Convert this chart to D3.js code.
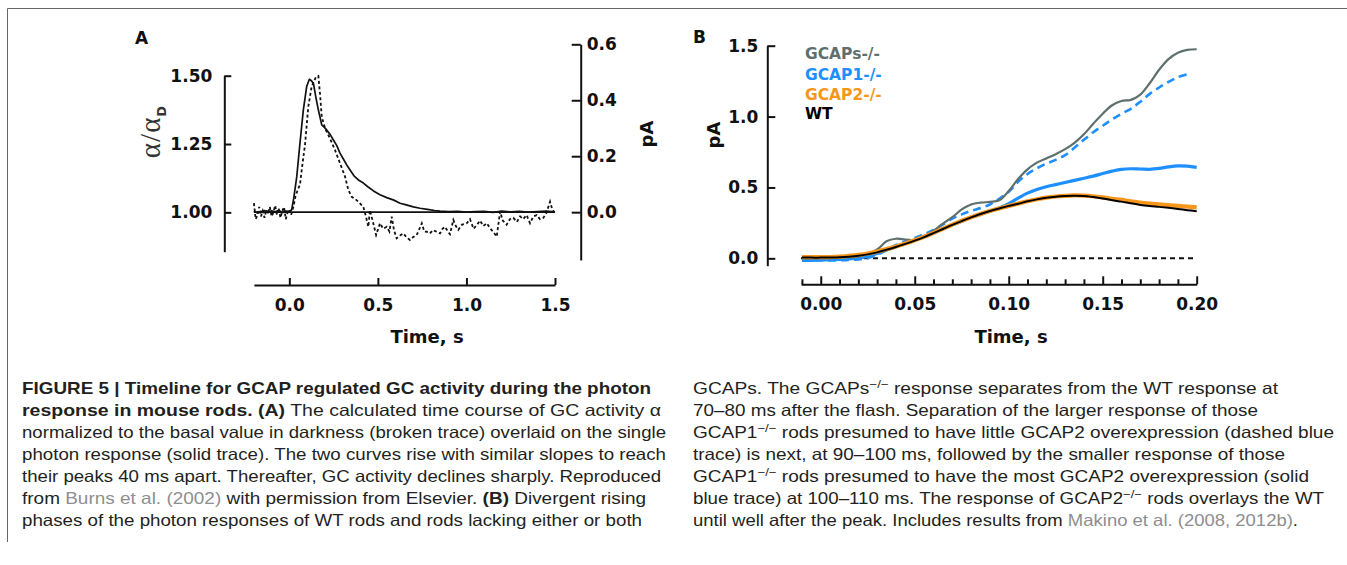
<!DOCTYPE html>
<html><head><meta charset="utf-8">
<script src="https://cdn.jsdelivr.net/npm/d3@7"></script>
<style>
html,body{margin:0;padding:0;background:#fff;}
svg{display:block;}
</style></head><body>
<svg id="c" width="1347" height="565"></svg>
<script>
// ---------- Panel A data ----------
const solidT  = [-0.2,-0.18,-0.16,-0.14,-0.12,-0.10,-0.08,-0.06,-0.04,-0.02,0.0,0.013,0.025,0.042,0.060,0.079,0.098,0.113,0.125,0.136,0.150,0.164,0.175,0.183,0.195,0.211,0.230,0.249,0.268,0.286,0.305,0.325,0.343,0.365,0.390,0.418,0.445,0.475,0.512,0.55,0.59,0.625,0.66,0.70,0.738,0.78,0.82,0.851,0.90,0.95,1.0,1.05,1.10,1.15,1.2,1.25,1.3,1.35,1.4,1.45,1.5];
const solidPA = [0.004,-0.003,0.002,0.006,-0.002,0.005,0.001,0.007,-0.002,0.004,0.003,0.008,0.05,0.127,0.246,0.365,0.449,0.475,0.47,0.46,0.41,0.365,0.335,0.312,0.305,0.294,0.278,0.258,0.238,0.211,0.19,0.168,0.151,0.13,0.115,0.104,0.09,0.076,0.062,0.052,0.043,0.032,0.026,0.019,0.014,0.01,0.006,0.004,0.002,0.003,0.0,0.002,0.003,-0.001,0.004,0.001,0.003,0.0,0.002,0.004,0.001];

const dotT = [-0.2,-0.19,-0.18,-0.17,-0.16,-0.15,-0.14,-0.13,-0.12,-0.11,-0.10,-0.09,-0.08,-0.07,-0.06,-0.05,-0.04,-0.03,-0.02,-0.01,0.0,0.01,0.023,0.035,0.051,0.06,0.070,0.089,0.107,0.126,0.151,0.164,0.173,0.183,0.202,0.215,0.230,0.258,0.286,0.315,0.333,0.352,0.370,0.390,0.418,0.433,0.446,0.455,0.474,0.490,0.512,0.530,0.550,0.565,0.578,0.591,0.606,0.625,0.644,0.660,0.681,0.70,0.719,0.735,0.748,0.762,0.776,0.794,0.81,0.832,0.851,0.865,0.879,0.895,0.907,0.926,0.94,0.954,0.975,1.002,1.02,1.04,1.06,1.077,1.095,1.115,1.135,1.15,1.171,1.19,1.205,1.227,1.245,1.265,1.285,1.303,1.32,1.34,1.359,1.378,1.397,1.415,1.434,1.45,1.472,1.485,1.5];
const dotAlpha = [1.034,0.975,0.99,1.02,0.985,1.005,0.98,1.01,0.995,1.02,0.985,1.0,1.025,0.99,1.015,0.98,1.005,1.02,0.975,1.0,1.01,0.99,1.02,1.06,1.088,1.10,1.155,1.25,1.386,1.46,1.496,1.499,1.436,1.35,1.307,1.29,1.27,1.228,1.18,1.13,1.082,1.057,1.05,1.039,1.02,0.984,0.947,1.008,0.96,0.917,0.96,0.94,0.947,0.93,0.984,0.935,0.905,0.915,0.923,0.91,0.899,0.91,0.917,0.94,0.96,0.93,0.929,0.923,0.935,0.929,0.923,0.94,0.947,0.93,0.92,0.972,0.95,0.936,0.955,0.96,0.975,0.94,0.955,0.97,0.95,0.96,0.94,0.93,0.911,1.003,0.97,0.955,0.975,0.98,0.965,0.985,0.975,0.99,0.96,0.985,0.99,0.975,0.98,0.995,1.039,1.01,0.997];

const ticksA_x = [0, 0.5, 1.0, 1.5];
const ticksA_left = [1.00, 1.25, 1.50];
const ticksA_right = [0.0, 0.2, 0.4, 0.6];

// ---------- Panel B data ----------
const tB = [-0.010,-0.005,0.000,0.005,0.010,0.015,0.020,0.025,0.030,0.035,0.040,0.045,0.050,0.055,0.060,0.065,0.070,0.075,0.080,0.085,0.090,0.095,0.100,0.105,0.110,0.115,0.120,0.125,0.130,0.135,0.140,0.145,0.150,0.155,0.160,0.165,0.170,0.175,0.180,0.185,0.190,0.195,0.200];
const wt = [0.005,0.005,0.005,0.006,0.008,0.012,0.018,0.028,0.042,0.06,0.08,0.102,0.125,0.15,0.178,0.207,0.236,0.263,0.289,0.313,0.334,0.352,0.37,0.385,0.402,0.416,0.427,0.435,0.44,0.442,0.44,0.432,0.422,0.41,0.40,0.388,0.377,0.369,0.363,0.356,0.348,0.34,0.332];
const gcap2 = [0.008,0.008,0.008,0.009,0.012,0.017,0.024,0.034,0.048,0.065,0.084,0.105,0.127,0.152,0.18,0.209,0.238,0.265,0.29,0.313,0.334,0.352,0.37,0.386,0.403,0.417,0.428,0.436,0.441,0.444,0.443,0.438,0.43,0.42,0.412,0.402,0.393,0.386,0.38,0.375,0.37,0.365,0.36];
const gcap1Solid = [-0.015,-0.014,-0.012,-0.01,-0.008,-0.004,0.003,0.014,0.035,0.058,0.082,0.105,0.13,0.155,0.18,0.208,0.236,0.262,0.288,0.31,0.333,0.355,0.385,0.425,0.46,0.485,0.505,0.52,0.535,0.55,0.565,0.58,0.598,0.615,0.628,0.632,0.63,0.628,0.634,0.645,0.652,0.65,0.642];
const gcap1Dashed = [-0.01,-0.012,-0.014,-0.015,-0.014,-0.012,-0.008,0.002,0.025,0.06,0.095,0.12,0.145,0.17,0.2,0.24,0.28,0.31,0.335,0.355,0.38,0.42,0.47,0.54,0.595,0.635,0.668,0.695,0.728,0.78,0.836,0.89,0.935,0.98,1.02,1.055,1.105,1.16,1.205,1.245,1.278,1.298,null];
const gcaps = [0.0,0.0,0.0,0.002,0.004,0.008,0.014,0.03,0.062,0.12,0.138,0.133,0.13,0.155,0.195,0.245,0.29,0.345,0.38,0.393,0.398,0.41,0.475,0.56,0.628,0.675,0.705,0.735,0.77,0.815,0.875,0.95,1.02,1.08,1.11,1.118,1.155,1.235,1.33,1.405,1.45,1.47,1.475];

const ticksB_xMajor = [0.00, 0.05, 0.10, 0.15, 0.20];
const ticksB_xMinor = [-0.01,0.01,0.02,0.03,0.04,0.06,0.07,0.08,0.09,0.11,0.12,0.13,0.14,0.16,0.17,0.18,0.19];
const ticksB_y = [0.0, 0.5, 1.0, 1.5];
const legendLabels = ["GCAPs-/-","GCAP1-/-","GCAP2-/-","WT"];
const legendColors = ["#5d706e","#1e8fff","#f7961c","#000000"];

// ---------- Caption text ----------
const captionLeft = [
 [["FIGURE 5 | Timeline for GCAP regulated GC activity during the photon","b"]],
 [["response in mouse rods. (A)","b"],[" The calculated time course of GC activity α","n"]],
 [["normalized to the basal value in darkness (broken trace) overlaid on the single","n"]],
 [["photon response (solid trace). The two curves rise with similar slopes to reach","n"]],
 [["their peaks 40 ms apart. Thereafter, GC activity declines sharply. Reproduced","n"]],
 [["from ","n"],["Burns et al. (2002)","g"],[" with permission from Elsevier. ","n"],["(B)","b"],[" Divergent rising","n"]],
 [["phases of the photon responses of WT rods and rods lacking either or both","n"]]
];
const captionLeftEnds = [651, 661, 666, 666, 661, 646, 642];
const captionRight = [
 [["GCAPs. The GCAPs","n"],["−/−","s"],[" response separates from the WT response at","n"]],
 [["70–80 ms after the flash. Separation of the larger response of those","n"]],
 [["GCAP1","n"],["−/−","s"],[" rods presumed to have little GCAP2 overexpression (dashed blue","n"]],
 [["trace) is next, at 90–100 ms, followed by the smaller response of those","n"]],
 [["GCAP1","n"],["−/−","s"],[" rods presumed to have the most GCAP2 overexpression (solid","n"]],
 [["blue trace) at 100–110 ms. The response of GCAP2","n"],["−/−","s"],[" rods overlays the WT","n"]],
 [["until well after the peak. Includes results from ","n"],["Makino et al. (2008, 2012b)","g"],[".","n"]]
];
const captionRightEnds = [1278, 1258, 1334, 1285, 1309, 1324, 1298];

// ---------- Drawing ----------
const svg = d3.select("#c");
svg.append("rect").attr("width",1347).attr("height",565).attr("fill","#fff");
svg.append("path").attr("d","M7.5,542 V8.5 H1347").attr("fill","none").attr("stroke","#666").attr("stroke-width",1);

const FONT = "DejaVu Sans, sans-serif";
function styleAxis(g){
  g.attr("font-family",FONT).attr("font-size",17).attr("font-weight","bold");
  g.select(".domain").attr("stroke","#111").attr("stroke-width",2);
  g.selectAll(".tick line").attr("stroke","#111").attr("stroke-width",2);
  g.selectAll(".tick text").attr("fill","#111");
}

// Panel A scales
const xA = d3.scaleLinear().domain([-0.2,1.5]).range([253.9,555]);
const yAL = d3.scaleLinear().domain([0.856,1.5]).range([251.7,75.7]);
const yAR = d3.scaleLinear().domain([-0.171,0.6]).range([260,44.3]);

svg.append("g").attr("transform","translate(0,285)")
  .call(d3.axisBottom(xA).tickValues(ticksA_x).tickFormat(d3.format(".1f")).tickSizeInner(-7).tickSizeOuter(0).tickPadding(14))
  .call(styleAxis);
svg.append("g").attr("transform","translate(224.3,0)")
  .call(d3.axisLeft(yAL).tickValues(ticksA_left).tickFormat(d3.format(".2f")).tickSizeInner(-7).tickSizeOuter(0).tickPadding(12))
  .call(styleAxis);
svg.append("g").attr("transform","translate(580.7,0)")
  .call(d3.axisRight(yAR).tickValues(ticksA_right).tickFormat(d3.format(".1f")).tickSizeInner(-9).tickSizeOuter(0).tickPadding(6))
  .call(styleAxis);

// baseline
svg.append("line").attr("x1",xA(-0.2)).attr("x2",xA(1.5)).attr("y1",yAR(0)).attr("y2",yAR(0))
  .attr("stroke","#111").attr("stroke-width",1.6);

const solidData = solidT.map((t,i)=>[t,solidPA[i]]);
const dotData = dotT.map((t,i)=>[t,dotAlpha[i]]);
svg.append("path").datum(solidData)
  .attr("d", d3.line().x(d=>xA(d[0])).y(d=>yAR(d[1])))
  .attr("fill","none").attr("stroke","#111").attr("stroke-width",1.7).attr("stroke-linejoin","round");
svg.append("path").datum(dotData)
  .attr("d", d3.line().x(d=>xA(d[0])).y(d=>yAL(d[1])))
  .attr("fill","none").attr("stroke","#111").attr("stroke-width",1.8).attr("stroke-dasharray","3,2.5");

// Panel A labels
svg.append("text").attr("x",135).attr("y",44.3).text("A")
  .attr("font-family",FONT).attr("font-weight","bold").attr("font-size",17).attr("fill","#111");
const al = svg.append("text").attr("transform","translate(160,132) rotate(-90)")
  .attr("text-anchor","middle").attr("fill","#333");
al.append("tspan").text("α/α").attr("font-family","Liberation Serif, DejaVu Serif, serif").attr("font-size",29).attr("letter-spacing",1);
al.append("tspan").text("D").attr("font-family",FONT).attr("font-weight","bold").attr("font-size",13).attr("dy",6);
svg.append("text").attr("transform","translate(653,134) rotate(-90)").attr("text-anchor","middle")
  .text("pA").attr("font-family",FONT).attr("font-weight","bold").attr("font-size",18).attr("fill","#111");
svg.append("text").attr("x",427).attr("y",343).attr("text-anchor","middle").text("Time, s")
  .attr("font-family",FONT).attr("font-weight","bold").attr("font-size",18).attr("fill","#111");

// Panel B scales
const xB = d3.scaleLinear().domain([-0.0105,0.2]).range([801,1196.7]);
const yB = d3.scaleLinear().domain([-0.052,1.5]).range([265.7,45.7]);

svg.append("g").attr("transform","translate(0,284.3)")
  .call(d3.axisBottom(xB).tickValues(ticksB_xMajor).tickFormat(d3.format(".2f")).tickSizeInner(-8).tickSizeOuter(0).tickPadding(14))
  .call(styleAxis);
svg.append("g").attr("transform","translate(0,284.3)")
  .call(d3.axisBottom(xB).tickValues(ticksB_xMinor).tickFormat("").tickSizeInner(-5).tickSizeOuter(0))
  .call(g=>{g.select(".domain").remove(); g.selectAll(".tick line").attr("stroke","#111").attr("stroke-width",2);});
svg.append("g").attr("transform","translate(767.3,0)")
  .call(d3.axisLeft(yB).tickValues(ticksB_y).tickFormat(d3.format(".1f")).tickSizeInner(-8).tickSizeOuter(0).tickPadding(9))
  .call(styleAxis);

svg.append("line").attr("x1",xB(-0.0105)).attr("x2",xB(0.2)).attr("y1",yB(0)).attr("y2",yB(0))
  .attr("stroke","#111").attr("stroke-width",2).attr("stroke-dasharray","5,4");

const lineB = d3.line().defined(d=>d[1]!==null).x(d=>xB(d[0])).y(d=>yB(d[1])).curve(d3.curveCatmullRom.alpha(0.5));
function series(vals){ return tB.map((t,i)=>[t,vals[i]]); }
svg.append("path").datum(series(gcap1Dashed)).attr("d",lineB)
  .attr("fill","none").attr("stroke",legendColors[1]).attr("stroke-width",2.6).attr("stroke-dasharray","8,5");
svg.append("path").datum(series(gcap1Solid)).attr("d",lineB)
  .attr("fill","none").attr("stroke",legendColors[1]).attr("stroke-width",3.2);
svg.append("path").datum(series(gcaps)).attr("d",lineB)
  .attr("fill","none").attr("stroke",legendColors[0]).attr("stroke-width",2.2);
svg.append("path").datum(series(gcap2)).attr("d",lineB)
  .attr("fill","none").attr("stroke",legendColors[2]).attr("stroke-width",4.2);
svg.append("path").datum(series(wt)).attr("d",lineB)
  .attr("fill","none").attr("stroke",legendColors[3]).attr("stroke-width",2);

const legY = [58.5, 79.5, 100, 119];
legendLabels.forEach((l,i)=>{
  svg.append("text").attr("x",805).attr("y",legY[i]).text(l)
    .attr("font-family",FONT).attr("font-weight","bold").attr("font-size",15.5).attr("fill",legendColors[i]);
});
svg.append("text").attr("x",693).attr("y",43.3).text("B")
  .attr("font-family",FONT).attr("font-weight","bold").attr("font-size",17).attr("fill","#111");
svg.append("text").attr("transform","translate(720,135) rotate(-90)").attr("text-anchor","middle")
  .text("pA").attr("font-family",FONT).attr("font-weight","bold").attr("font-size",18).attr("fill","#111");
svg.append("text").attr("x",1011).attr("y",343).attr("text-anchor","middle").text("Time, s")
  .attr("font-family",FONT).attr("font-weight","bold").attr("font-size",18).attr("fill","#111");

// Caption
function drawCaption(lines, ends, x0){
  lines.forEach((segs,i)=>{
    const t = svg.append("text").attr("x",x0).attr("y",394.3+22*i)
      .attr("font-family","Liberation Sans, Arial, sans-serif").attr("font-size",16.5).attr("fill","#231f20")
      .attr("textLength", ends[i]-x0).attr("lengthAdjust","spacingAndGlyphs");
    let sup = false;
    segs.forEach(([s,k])=>{
      const ts = t.append("tspan").text(s);
      if(k==="b") ts.attr("font-weight","bold");
      if(k==="g") ts.attr("fill","#8e8e90");
      if(k==="s"){ ts.attr("font-size",11.5).attr("dy",-6); sup = true; }
      else if(sup){ ts.attr("dy",6); sup = false; }
    });
  });
}
drawCaption(captionLeft, captionLeftEnds, 22);
drawCaption(captionRight, captionRightEnds, 693);
</script></body></html>
